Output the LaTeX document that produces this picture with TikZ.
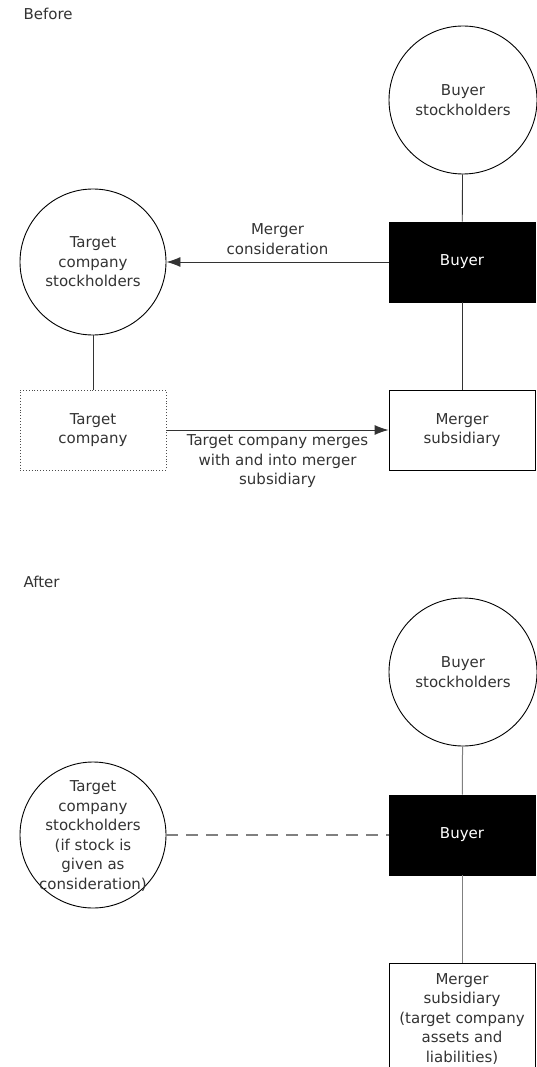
\documentclass[tikz,border=0pt]{standalone}
\usepackage{fontspec}
\setmainfont{DejaVu Sans}
\usetikzlibrary{arrows.meta}
\definecolor{txt}{HTML}{333333}
\definecolor{ln}{HTML}{808080}
\tikzset{
  every node/.style={font=\fontsize{15}{19.5}\selectfont, text=txt, align=center},
  circ/.style={circle, draw=black, line width=0.9pt, minimum size=148pt, inner sep=0pt},
  bbox/.style={rectangle, draw=black, line width=0.9pt, minimum width=146pt, minimum height=80pt, inner sep=0pt},
  blk/.style={bbox, fill=black, text=white},
  conn/.style={line width=0.9pt, draw=black!80},
  gconn/.style={line width=1pt, draw=ln},
  arr/.style={conn, -{Latex[length=14pt,width=10pt]}}
}
\begin{document}
\begin{tikzpicture}[x=1pt,y=-1pt]
\useasboundingbox (0,0) rectangle (536,1067);
% Before
\node[anchor=west] (before) at (20,14) {Before};
\node[circ] (bs1) at (463,100) {Buyer\\stockholders};
\node[blk] (b1) at (462,262) {Buyer};
\node[bbox] (ms1) at (462,430) {Merger\\subsidiary};
\node[circ, minimum size=146pt] (ts1) at (93,262) {Target\\company\\stockholders};
\node[bbox, draw=black!70, dotted, line width=1pt] (tc) at (93,430) {};
\node (tctext) at (93,430) {Target\\company};
\draw[conn] (bs1) -- (b1);
\draw[conn] (b1) -- (ms1);
\draw[conn] (ts1) -- (tc);
\draw[arr] (b1.west) -- (ts1.east) node[midway, above=4pt] (lab1) {Merger\\consideration};
\draw[arr] (tc.east) -- (ms1.west) node[midway, below=1pt] (lab2) {Target company merges\\with and into merger\\subsidiary};
% After
\node[anchor=west] (after) at (20,582) {After};
\node[circ] (bs2) at (463,672) {Buyer\\stockholders};
\node[blk] (b2) at (462,835) {Buyer};
\node[bbox, minimum height=112pt] (ms2) at (462,1019) {Merger\\subsidiary\\(target company\\assets and\\liabilities)};
\node[circ, minimum size=146pt] (ts2) at (93,835) {};
\node (ts2text) at (93,836) {Target\\company\\stockholders\\(if stock is\\given as\\consideration)};
\draw[gconn] (bs2) -- (b2);
\draw[gconn] (b2) -- (ms2);
\draw[gconn, line width=1.8pt, dash pattern=on 12pt off 8pt] (ts2.east) -- (b2.west);
\end{tikzpicture}
\end{document}
